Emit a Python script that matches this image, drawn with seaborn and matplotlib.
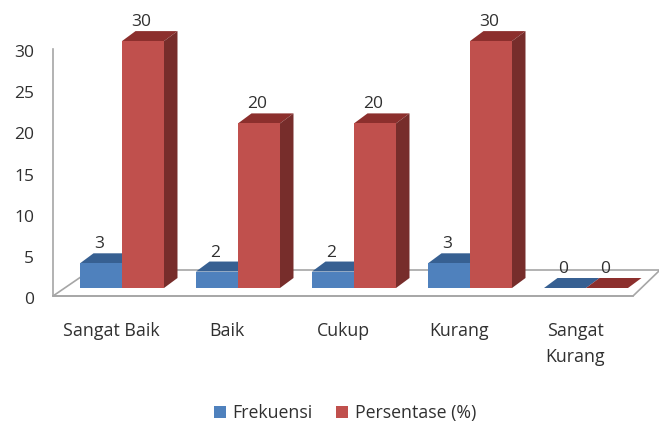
import pandas as pd
import matplotlib
matplotlib.use('Agg')
import matplotlib.pyplot as plt
import matplotlib.transforms as mtrans
from matplotlib.patches import Polygon
import seaborn as sns

# Data
categories = ['Sangat Baik', 'Baik', 'Cukup', 'Kurang', 'Sangat\nKurang']
frekuensi = [3, 2, 2, 3, 0]
persentase = [30, 20, 20, 30, 0]
yticks = [0, 5, 10, 15, 20, 25, 30]

df = pd.DataFrame({'Kategori': categories, 'Frekuensi': frekuensi, 'Persentase (%)': persentase})
df = df.melt(id_vars='Kategori', var_name='Seri', value_name='Nilai')

sns.set_theme(style='white')
plt.rcParams['font.family'] = ['Open Sans', 'DejaVu Sans']
text_color = '#303030'
line_color = '#a6a6a6'

W, H = 659, 426
fig = plt.figure(figsize=(W / 100, H / 100), dpi=100, facecolor='white')
ax = fig.add_axes([53 / W, 1 - 296 / H, 580 / W, 296 / H])

sns.barplot(data=df, x='Kategori', y='Nilai', hue='Seri', hue_order=['Frekuensi', 'Persentase (%)'],
            palette=['#4f81bd', '#c0504d'], saturation=1, width=0.724, gap=0, linewidth=0, ax=ax, zorder=4)

# Scale: 116 px per category, 8.23 px per unit
px_x = 1 / 116
px_y = 1 / 8.23
ax.set_xlim(-69 * px_x, 511 * px_x)
ax.set_ylim(-8 * px_y, 288 * px_y)
ax.set_xlabel('')
ax.set_ylabel('')

# Floor of the 3D box
x0, x1 = ax.get_xlim()
y0 = ax.get_ylim()[0]
floor = Polygon([(x0, y0), (x1, y0), (x1 + 27 * px_x, y0 + 26 * px_y), (x0 + 38 * px_x, y0 + 26 * px_y)],
                closed=True, facecolor='white', edgecolor=line_color, linewidth=1.2, zorder=1, clip_on=False)
ax.add_patch(floor)

# Top and side faces of the bars, taken from the bars seaborn drew
depth_x = 13.5 * px_x
depth_y = 10 * px_y
shades = [('#376092', '#2f5587'), ('#8c2f2d', '#772d2b')]
for i, (container, (top_color, side_color)) in enumerate(zip(ax.containers, shades)):
    for bar in container:
        bar.set_zorder(3 + 2 * i)
        left, right = bar.get_x(), bar.get_x() + bar.get_width()
        h = bar.get_height()
        ax.add_patch(Polygon([(left, h), (right, h), (right + depth_x, h + depth_y), (left + depth_x, h + depth_y)],
                             facecolor=top_color, linewidth=0, zorder=2 + 2 * i, clip_on=False))
        if h > 0:
            ax.add_patch(Polygon([(right, 0), (right, h), (right + depth_x, h + depth_y), (right + depth_x, depth_y)],
                                 facecolor=side_color, linewidth=0, zorder=2 + 2 * i, clip_on=False))
        ax.annotate(f'{h:.0f}', (bar.get_x() + bar.get_width() / 2, h), xytext=(-1, 13.7),
                    textcoords='offset points', ha='center', va='center', fontsize=12.5,
                    color=text_color, zorder=8, annotation_clip=False)

# Axes
sns.despine(ax=ax)
ax.spines['left'].set_bounds(y0, 239 * px_y)
ax.spines['left'].set_color(line_color)
ax.spines['bottom'].set_color(line_color)
ax.spines['left'].set_linewidth(1.2)
ax.spines['bottom'].set_linewidth(1.2)
ax.spines['left'].set_zorder(1)
ax.spines['bottom'].set_zorder(1)

ax.set_yticks(yticks)
ax.tick_params(axis='y', length=0, pad=13.7, labelsize=12.5, labelcolor=text_color)
ax.tick_params(axis='x', length=0, pad=19, labelsize=12.8, labelcolor=text_color)
shift_y = mtrans.ScaledTranslation(0, -10 / 100, fig.dpi_scale_trans)
for label in ax.get_yticklabels():
    label.set_transform(label.get_transform() + shift_y)
shift_x = mtrans.ScaledTranslation(-11 / 100, 0, fig.dpi_scale_trans)
for label in ax.get_xticklabels():
    label.set_transform(label.get_transform() + shift_x)
    label.set_linespacing(1.55)

# Legend
handles, labels = ax.get_legend_handles_labels()
ax.get_legend().remove()
fig.legend(handles, labels, loc='center', bbox_to_anchor=(345 / W, 1 - 413 / H), ncol=2, frameon=False,
           fontsize=12.8, handlelength=0.7, handleheight=0.7, handletextpad=0.35, columnspacing=1.3,
           labelcolor=text_color)

fig.savefig('out.png', dpi=100)
